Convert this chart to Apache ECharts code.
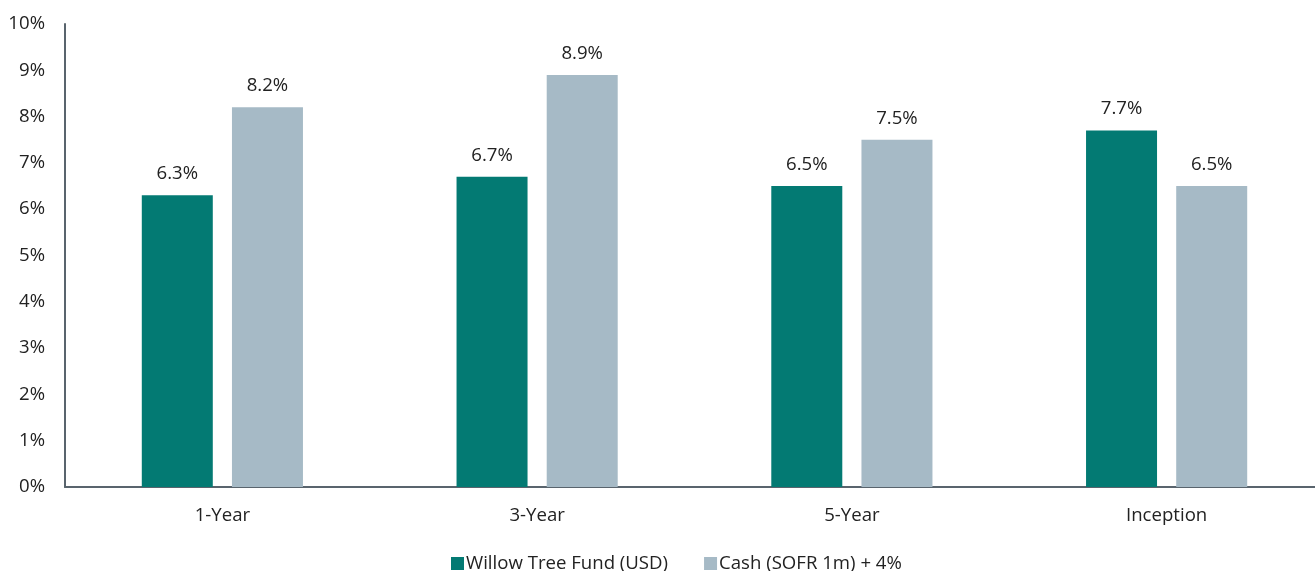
<!DOCTYPE html>
<html>
<head>
<meta charset="utf-8">
<script src="https://cdn.jsdelivr.net/npm/echarts@6/dist/echarts.min.js"></script>
<style>
  html, body { margin: 0; padding: 0; background: #fff; }
  #chart { width: 1315px; height: 571px; }
</style>
</head>
<body>
<div id="chart"></div>
<script>
// data
const categories = ['1-Year', '3-Year', '5-Year', 'Inception']
const fundValues = [6.3, 6.7, 6.5, 7.7]
const cashValues = [8.2, 8.9, 7.5, 6.5]
const seriesNames = ['Willow Tree Fund (USD)', 'Cash (SOFR 1m) + 4%']

const font = '"Open Sans", "Noto Sans", sans-serif'
const textColor = '#222'
const fs = 18.6

let chart = echarts.init(document.getElementById('chart'))

let option = {
  animation: false,
  textStyle: { fontFamily: font },
  grid: {
    left: 65,
    top: 24,
    width: 1259,
    bottom: 84,
    outerBoundsMode: 'none'
  },
  legend: {
    bottom: -7,
    left: 446,
    itemWidth: 13,
    itemHeight: 13,
    itemGap: 36,
    icon: 'rect',
    textStyle: { fontFamily: font, fontSize: fs, color: textColor, padding: [0, 0, 0, -3] },
    data: seriesNames
  },
  xAxis: {
    type: 'category',
    data: categories,
    axisLine: { lineStyle: { color: '#59646d', width: 2 } },
    axisTick: { show: false },
    axisLabel: { fontFamily: font, fontSize: fs, color: textColor, margin: 19 }
  },
  yAxis: {
    type: 'value',
    min: 0,
    max: 10,
    interval: 1,
    axisLine: { show: true, lineStyle: { color: '#59646d', width: 2 } },
    axisTick: { show: false },
    splitLine: { show: false },
    axisLabel: { fontFamily: font, fontSize: fs, color: textColor, margin: 20, formatter: '{value}%' }
  },
  series: [
    {
      name: seriesNames[0],
      type: 'bar',
      data: fundValues,
      barWidth: 71,
      barGap: '27%',
      itemStyle: { color: '#037a73' },
      label: {
        show: true,
        position: 'top',
        distance: 12,
        fontFamily: font,
        fontSize: fs,
        color: textColor,
        formatter: p => p.value.toFixed(1) + '%'
      }
    },
    {
      name: seriesNames[1],
      type: 'bar',
      data: cashValues,
      barWidth: 71,
      itemStyle: { color: '#a6bac6' },
      label: {
        show: true,
        position: 'top',
        distance: 12,
        fontFamily: font,
        fontSize: fs,
        color: textColor,
        formatter: p => p.value.toFixed(1) + '%'
      }
    }
  ]
}

chart.setOption(option)
</script>
</body>
</html>
